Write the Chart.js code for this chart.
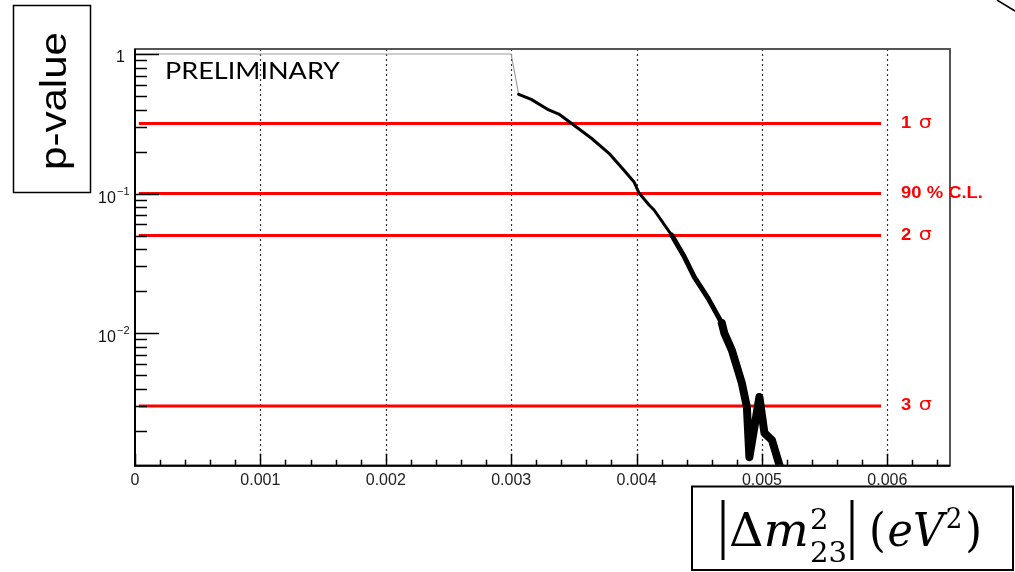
<!DOCTYPE html>
<html><head><meta charset="utf-8">
<script src="https://cdn.jsdelivr.net/npm/chart.js@4.4.1/dist/chart.umd.min.js"></script>
<style>html,body{margin:0;padding:0;background:#fff;overflow:hidden}#wrap{position:relative;width:1015px;height:572px}</style>
</head><body><div id="wrap"><canvas id="c" width="1015" height="572"></canvas></div>
<script>
// ---- data ----
const plateauX = [0, 0.003, 0.00306];
const plateauP = [1, 1, 0.514];
const curveX = [0.00306, 0.00316, 0.00330, 0.00338, 0.00348, 0.00364, 0.00378, 0.00390, 0.00398, 0.00402, 0.00410, 0.00414, 0.00428, 0.00438, 0.00446, 0.00457, 0.00468, 0.00470, 0.00476, 0.00484, 0.00488, 0.00490, 0.00498, 0.00502, 0.00508, 0.00514, 0.00520];
const curveP = [0.514, 0.473, 0.397, 0.371, 0.319, 0.249, 0.194, 0.147, 0.121, 0.1008, 0.0828, 0.0762, 0.0504, 0.0353, 0.0253, 0.0178, 0.0118, 0.0100, 0.00755, 0.00438, 0.00295, 0.00129, 0.00348, 0.00192, 0.00171, 0.00113, 0.0009];
const bandStartX = [0.00428, 0.00466];
const levelP = [0.317, 0.1, 0.05, 0.003];
const levelLabels = ['1 σ', '90 % C.L.', '2 σ', '3 σ'];
const levelX = [0.00003, 0.00595];
const levelLabelX = 0.00611;
const xMajorTicks = [0, 0.001, 0.002, 0.003, 0.004, 0.005, 0.006];
const xTickLabels = ['0', '0.001', '0.002', '0.003', '0.004', '0.005', '0.006'];
const yMajorTicks = [1, 0.1, 0.01];
const yTickExp = ['', '\u22121', '\u22122'];
const xRange = [0, 0.0065];
const yRange = [0.00112, 1.086];

const pts = (xs, ys) => xs.map((v, i) => ({x: v, y: ys[i]}));

const datasets = [
  {data: pts(curveX, curveP), borderColor: '#000', borderWidth: 3, pointRadius: 0, tension: 0, borderJoinStyle: 'round', borderCapStyle: 'round'},
  {data: pts(curveX, curveP).filter(p => p.x >= bandStartX[0]), borderColor: '#000', borderWidth: 5, pointRadius: 0, tension: 0, borderJoinStyle: 'round', borderCapStyle: 'round'},
  {data: pts(curveX, curveP).filter(p => p.x >= bandStartX[1]), borderColor: '#000', borderWidth: 8, pointRadius: 0, tension: 0, borderJoinStyle: 'round', borderCapStyle: 'round'},
  {data: pts(plateauX, plateauP), borderColor: '#9c9c9c', borderWidth: 1.2, pointRadius: 0, tension: 0}
];
levelP.forEach(p => datasets.push({data: levelX.map(x => ({x, y: p})), borderColor: '#ff0000', borderWidth: 3, pointRadius: 0}));

function fitText(ctx, t, x0, x1, y) {
  const w = ctx.measureText(t).width;
  ctx.save(); ctx.translate(x0, y); ctx.scale((x1 - x0) / w, 1); ctx.fillText(t, 0, 0); ctx.restore();
}
function seq(ctx, parts, x0, x1, base) {
  let tot = 0;
  parts.forEach(p => { ctx.font = p.f; p.w = ctx.measureText(p.t).width; if (p.adv !== false) tot += p.w + (p.gap || 0); });
  const s = (x1 - x0) / tot;
  ctx.save(); ctx.translate(x0, base); ctx.scale(s, 1);
  let cx = 0;
  parts.forEach(p => { ctx.font = p.f; ctx.fillText(p.t, cx, p.dy || 0); if (p.adv !== false) cx += p.w + (p.gap || 0); });
  ctx.restore();
}

const deco = {
  id: 'deco',
  beforeDatasetsDraw(chart) {
    const {ctx, chartArea: a, scales: {x}} = chart;
    ctx.save();
    ctx.strokeStyle = '#333'; ctx.lineWidth = 1.2; ctx.setLineDash([2, 3]);
    xMajorTicks.forEach(v => {
      if (v === 0) return;
      const px = Math.round(x.getPixelForValue(v)) + 0.5;
      ctx.beginPath(); ctx.moveTo(px, a.top); ctx.lineTo(px, a.bottom); ctx.stroke();
    });
    ctx.restore();
  },
  afterDatasetsDraw(chart) {
    const {ctx, chartArea: a, scales: {x, y}} = chart;
    ctx.save();
    // frame
    ctx.strokeStyle = '#555'; ctx.lineWidth = 2;
    ctx.strokeRect(a.left, a.top, a.right - a.left, a.bottom - a.top);
    ctx.strokeStyle = '#000';
    ctx.beginPath(); ctx.moveTo(a.left, a.top); ctx.lineTo(a.left, a.bottom); ctx.lineTo(a.right, a.bottom); ctx.stroke();
    // y ticks
    ctx.lineWidth = 1.5;
    for (let e = -3; e <= 0; e++) {
      for (let d = 1; d <= 9; d++) {
        const v = d * Math.pow(10, e);
        if (v < yRange[0] || v > yRange[1]) continue;
        const py = Math.round(y.getPixelForValue(v)) + 0.5;
        const len = d === 1 ? 24 : 12;
        ctx.beginPath(); ctx.moveTo(a.left, py); ctx.lineTo(a.left + len, py); ctx.stroke();
      }
    }
    // x ticks
    for (let k = 0; k <= 32; k++) {
      const v = k * 0.0002;
      const px = Math.round(x.getPixelForValue(v)) + 0.5;
      const len = k % 5 === 0 ? 12 : 6;
      ctx.beginPath(); ctx.moveTo(px, a.bottom); ctx.lineTo(px, a.bottom - len); ctx.stroke();
    }
    // y tick labels (ROOT style superscripts)
    ctx.fillStyle = '#111'; ctx.textBaseline = 'alphabetic';
    yMajorTicks.forEach((v, i) => {
      const py = y.getPixelForValue(v);
      if (yTickExp[i] === '') {
        ctx.font = '16px "Liberation Sans"'; ctx.textAlign = 'right';
        ctx.fillText('1', 125, py + 8);
      } else {
        ctx.textAlign = 'left';
        ctx.font = '16px "Liberation Sans"';
        ctx.fillText('10', 98, py + 9);
        ctx.font = '11px "Liberation Sans"';
        ctx.fillText(yTickExp[i], 117, py + 1);
      }
    });
    // level labels
    ctx.fillStyle = '#ff0000'; ctx.textAlign = 'left';
    levelLabels.forEach((t, i) => {
      const py = y.getPixelForValue(levelP[i]) + 4;
      const px = x.getPixelForValue(levelLabelX);
      const m = t.match(/^(.*?)( σ)$/);
      ctx.save(); ctx.translate(px, py); ctx.scale(1.15, 1);
      if (m) {
        ctx.font = 'bold 16px "Liberation Sans"'; ctx.fillText(m[1], 0, 0);
        const w = ctx.measureText(m[1] + ' ').width;
        ctx.font = '18px "DejaVu Sans"'; ctx.fillText('σ', w + 2, 0);
      } else {
        ctx.font = 'bold 16px "Liberation Sans"'; ctx.fillText(t, 0, 0);
      }
      ctx.restore();
    });
    // PRELIMINARY
    ctx.fillStyle = '#000'; ctx.font = '23px Lato';
    fitText(ctx, 'PRELIMINARY', 165, 340, 79);
    ctx.restore();
  },
  afterDraw(chart) {
    const ctx = chart.ctx;
    ctx.save();
    // y title box
    ctx.strokeStyle = '#000'; ctx.lineWidth = 1.5;
    ctx.strokeRect(13.5, 5.5, 77, 187);
    ctx.fillStyle = '#000';
    ctx.save(); ctx.translate(66, 101); ctx.rotate(-Math.PI / 2);
    ctx.font = '36px "Liberation Sans"'; ctx.textAlign = 'left';
    const tw = ctx.measureText('p-value').width;
    ctx.scale(138 / tw, 1); ctx.fillText('p-value', -tw / 2, 0);
    ctx.restore();
    // x title box
    ctx.lineWidth = 2;
    ctx.strokeRect(692, 486.5, 321, 83.5);
    ctx.lineWidth = 3;
    ctx.beginPath(); ctx.moveTo(723, 500); ctx.lineTo(723, 560); ctx.moveTo(852, 500); ctx.lineTo(852, 560); ctx.stroke();
    ctx.textAlign = 'left';
    const up = '46px "DejaVu Serif"', it = 'italic 46px "DejaVu Serif"', sm = '28px "DejaVu Serif"';
    seq(ctx, [
      {t: 'Δ', f: up}, {t: 'm', f: it, gap: 1},
      {t: '2', f: sm, dy: -17, adv: false}, {t: '23', f: sm, dy: 16}
    ], 729, 847, 546);
    seq(ctx, [
      {t: '(', f: up, gap: 2}, {t: 'e', f: it}, {t: 'V', f: it, gap: 2},
      {t: '2', f: sm, dy: -18, gap: 3}, {t: ')', f: up}
    ], 869, 982, 546);
    // slide corner stroke
    ctx.lineWidth = 1.5;
    ctx.beginPath(); ctx.moveTo(997, 0); ctx.lineTo(1015, 11); ctx.stroke();
    ctx.restore();
  }
};

new Chart(document.getElementById('c'), {
  type: 'line',
  data: {datasets},
  options: {
    responsive: false, animation: false, devicePixelRatio: 1,
    layout: {padding: {left: 135, top: 49, right: 65, bottom: 0}},
    plugins: {legend: {display: false}, tooltip: {enabled: false}},
    scales: {
      x: {
        type: 'linear', min: xRange[0], max: xRange[1],
        afterBuildTicks: s => { s.ticks = xMajorTicks.map(v => ({value: v})); },
        afterFit: s => { s.height = 106.3; },
        grid: {display: false, drawTicks: false}, border: {display: false},
        ticks: {autoSkip: false, maxRotation: 0, padding: 5, color: '#222',
          font: {family: 'Liberation Sans', size: 16},
          callback: (v, i) => xTickLabels[i]}
      },
      y: {
        type: 'logarithmic', min: yRange[0], max: yRange[1], display: false
      }
    }
  },
  plugins: [deco]
});
</script></body></html>
